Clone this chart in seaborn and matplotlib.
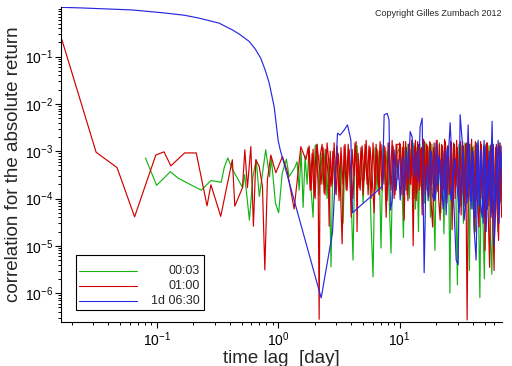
import numpy as np
import pandas as pd
import matplotlib
matplotlib.use("Agg")
import matplotlib.pyplot as plt
import seaborn as sns
from matplotlib.patches import Rectangle
from matplotlib.ticker import FixedLocator, LogLocator, NullFormatter

# ── values: lag [day] -> correlation of |r| ──────────────────────────────────
# 00:03 (green)
lag_g = [0.081, 0.1, 0.13, 0.15, 0.233, 0.28, 0.34, 0.36, 0.385, 0.424,
         0.51, 0.53, 0.58, 0.62, 0.66, 0.70, 0.79, 0.85, 0.88, 0.95,
         1.01, 1.08, 1.17, 1.23, 1.37,
         1.434, 1.489, 1.546, 1.605, 1.667, 1.731, 1.798, 1.867, 1.939, 2.014,
         2.091, 2.172, 2.256, 2.343, 2.433, 2.527, 2.624, 2.725, 2.83, 2.94,
         3.05, 3.17, 3.29, 3.42, 3.55, 3.69, 3.83, 3.98, 4.13, 4.29,
         4.46, 4.63, 4.81, 5.0, 5.19, 5.39, 5.6, 5.81, 6.04, 6.27,
         6.51, 6.76, 7.02, 7.29, 7.58, 7.87, 8.17, 8.49, 8.81, 9.15,
         9.51,
         10.15, 10.44, 10.74, 11.05, 11.37, 11.7, 12.03, 12.38, 12.74, 13.1,
         13.48, 13.87, 14.27, 14.68, 15.1, 15.54, 15.98, 16.44, 16.92, 17.4,
         17.91, 18.42, 18.95, 19.5, 20.06, 20.64, 21.23, 21.84, 22.47, 23.12,
         23.79, 24.47, 25.18, 25.9, 26.65, 27.41, 28.2, 29.02, 29.85, 30.71,
         31.6, 32.51, 33.44, 34.4, 35.39, 36.41, 37.46, 38.54, 39.65, 40.79,
         41.96, 43.17, 44.41, 45.69, 47.01, 48.36, 49.75, 51.19, 52.66, 54.18,
         55.74, 57.34, 59.0, 60.7, 62.44, 64.24, 66.09, 68.0, 69.95]
corr_g = [7.2e-4, 1.9e-4, 3.7e-4, 2.7e-4, 1.5e-4, 2.4e-4, 2.2e-4, 4.5e-4, 7.2e-4, 4e-4,
          1.7e-4, 3.2e-4, 3.5e-5, 2.9e-4, 6.6e-4, 1.1e-4, 1.07e-3, 2.9e-4, 7e-4, 8e-5,
          5e-5, 3.4e-4, 6.8e-4, 2.9e-4, 4.5e-4,
          6e-4, 1.5e-4, 1e-3, 6.5e-5, 8e-4, 2e-4, 1.2e-3, 1.5e-4, 4e-5, 1.3e-3,
          1.4e-3, 1.2e-4, 9e-4, 2e-4, 1.1e-3, 1e-4, 7e-4, 3.6e-6, 1e-3, 2.5e-4,
          1.2e-3, 1.5e-4, 8e-4, 3e-5, 1.1e-3, 2e-4, 1e-3, 1.2e-4, 5e-6, 1.2e-3,
          1.3e-3, 2e-4, 1e-3, 8e-5, 9e-4, 2.5e-4, 1.1e-3, 3e-5, 2.2e-6, 1.2e-3,
          1.5e-4, 1e-3, 9e-6, 1.3e-3, 2e-4, 1e-3, 1.2e-4, 7e-6, 1.2e-3, 1.5e-4,
          9e-4,
          1.3e-3, 2e-4, 1.5e-5, 1.2e-3, 1.5e-4, 1.4e-3, 1e-4, 1.1e-3, 3e-4, 1.5e-3,
          6e-5, 1.2e-3, 2e-5, 1.4e-3, 1.5e-4, 1.3e-3, 8e-5, 1.5e-3, 2e-4, 1.2e-3,
          4e-5, 1.4e-3, 1.2e-4, 8e-6, 1.3e-3, 1.5e-4, 1.5e-3, 5e-5, 1.2e-3, 1.8e-5,
          1.4e-3, 1e-4, 1.3e-3, 1e-6, 1.5e-3, 6e-5, 1.2e-3, 1.2e-4, 1.5e-6, 1.4e-3,
          7e-5, 1.3e-3, 3e-5, 1.5e-3, 1e-4, 1.2e-3, 3e-6, 1.4e-3, 6e-5, 1.3e-3,
          2e-5, 1.5e-3, 9e-5, 8e-7, 1.2e-3, 4e-5, 2e-6, 1.4e-3, 6e-5, 1.3e-3,
          1.5e-5, 2.5e-6, 1.4e-3, 5e-5, 1.2e-3, 2e-5, 1.5e-3, 8e-5, 1.3e-3]

# 01:00 (red)
lag_r = [0.0166, 0.0318, 0.0473, 0.0659, 0.0985, 0.115, 0.131, 0.170, 0.212, 0.26,
         0.28, 0.337, 0.42, 0.44, 0.509, 0.532, 0.559, 0.596, 0.626, 0.655,
         0.698, 0.743, 0.777, 0.816, 0.871, 0.957, 1.085, 1.19, 1.354, 1.537,
         1.69,
         1.766, 1.834, 1.905, 1.978, 2.055, 2.134, 2.175, 2.216, 2.30, 2.39,
         2.48, 2.58, 2.63, 2.68, 2.78, 2.89, 3.0, 3.12, 3.24, 3.36,
         3.49, 3.63, 3.77, 3.91, 3.99, 4.06, 4.22, 4.38, 4.46, 4.55,
         4.73, 4.91, 5.1, 5.3, 5.5, 5.71, 5.93, 6.16, 6.4, 6.65,
         6.9, 7.17, 7.45, 7.74, 8.03, 8.35, 8.67, 9.0, 9.35, 9.71,
         10.0, 10.29, 10.59, 10.89, 11.2, 11.53, 11.86, 12.2, 12.55, 12.91,
         13.28, 13.67, 14.06, 14.47, 14.88, 15.31, 15.75, 16.2, 16.67, 17.15,
         17.65, 18.15, 18.68, 19.21, 19.77, 20.34, 20.92, 21.53, 22.15, 22.78,
         23.44, 24.11, 24.81, 25.52, 26.26, 27.01, 27.79, 28.59, 29.41, 30.26,
         31.13, 32.03, 32.95, 33.9, 34.87, 35.88, 36.91, 37.97, 39.06, 40.19,
         41.35, 42.54, 43.76, 45.02, 46.32, 47.65, 49.03, 50.44, 51.89, 53.38,
         54.92, 56.5, 58.13, 59.8, 61.53, 63.3, 65.12, 67.0, 68.9, 70.9]
corr_r = [0.23, 9.5e-4, 4.5e-4, 4.1e-5, 8.3e-4, 9.7e-4, 4.9e-4, 9.2e-4, 9.2e-4, 7e-5,
          1.95e-4, 4.2e-5, 6.6e-4, 6.9e-5, 1.7e-4, 1.07e-3, 1.7e-4, 1.25e-3, 2.6e-5, 6.6e-4,
          4.8e-4, 1.8e-4, 3.1e-6, 2.5e-4, 8.3e-4, 3.5e-4, 7.7e-4, 3.7e-4, 6e-5, 1.25e-3,
          6.6e-4,
          1.2e-3, 1.5e-4, 9e-4, 1.1e-4, 1.3e-3, 2e-4, 2.8e-7, 8e-4, 1.4e-3, 1.3e-4,
          1.1e-3, 3e-4, 2.6e-5, 1e-3, 2e-4, 1.5e-3, 1.2e-4, 9e-4, 2.5e-4, 1.1e-5,
          1.3e-3, 1.5e-4, 1.4e-3, 2e-4, 4e-5, 1.1e-3, 3e-4, 1.6e-3, 2e-5, 9e-4,
          1.5e-4, 1.3e-3, 2.5e-4, 1.7e-3, 1.2e-4, 1.2e-3, 3e-4, 5e-5, 1.4e-3, 2e-4,
          1.6e-3, 1.5e-4, 1.3e-3, 4e-5, 1.5e-3, 2e-4, 1.7e-3, 1e-4, 1.4e-3, 2.5e-4,
          1.5e-3, 1.5e-4, 1.2e-3, 3.5e-5, 1.6e-3, 1.2e-4, 1.4e-3, 2e-4, 1.7e-3, 1e-5,
          1.3e-3, 9e-5, 1.6e-3, 1.5e-4, 1.1e-3, 4.5e-5, 1.8e-3, 1.2e-4, 1.4e-3, 2e-4,
          1.6e-3, 8e-5, 2.5e-5, 1.5e-3, 1.3e-4, 1.7e-3, 1e-4, 3.5e-5, 1.4e-3, 1.5e-4,
          1.8e-3, 9e-5, 1.3e-3, 1.2e-4, 1.6e-3, 2.2e-5, 1.5e-3, 1e-4, 1.7e-3, 1.4e-4,
          1.2e-3, 4.5e-5, 1.6e-3, 8e-5, 1.4e-3, 2.7e-7, 1.5e-3, 1.1e-4, 1.8e-3, 9e-5,
          1.8e-5, 1.4e-3, 7e-5, 2.5e-5, 1.6e-3, 1e-4, 1.3e-3, 8e-6, 1.5e-3, 6e-5,
          3.5e-6, 1.4e-3, 5e-5, 3e-6, 1.2e-3, 7e-5, 1.3e-5, 1.5e-3, 4e-5, 1e-4]

# 01:00 (red), second strand of the dense band (drawn as its own line)
lag_r_fill = [1.798, 1.867, 1.939, 2.014, 2.091, 2.256, 2.343, 2.433, 2.527, 2.725,
              2.83, 2.94, 3.05, 3.17, 3.29, 3.42, 3.55, 3.69, 3.83, 4.13,
              4.29, 4.63, 4.81, 5.0, 5.19, 5.39, 5.6, 5.81, 6.04, 6.27,
              6.51, 6.76, 7.02, 7.29, 7.58, 7.87, 8.17, 8.49, 8.81, 9.15,
              9.51,
              10.14, 10.44, 10.74, 11.05, 11.36, 11.69, 12.03, 12.37, 12.73, 13.1,
              13.47, 13.86, 14.26, 14.68, 15.1, 15.53, 15.98, 16.44, 16.91, 17.4,
              17.9, 18.41, 18.95, 19.49, 20.05, 20.63, 21.22, 21.84, 22.47, 23.11,
              23.78, 24.46, 25.17, 25.89, 26.64, 27.4, 28.19, 29.0, 29.83, 30.69,
              31.58, 32.49, 33.42, 34.39, 35.37, 36.39, 37.44, 38.52, 39.62, 40.77,
              41.94, 43.15, 44.39, 45.67, 46.98, 48.33, 49.73, 51.16, 52.63, 54.15,
              55.71, 57.31, 58.96, 60.66, 62.41, 64.2, 66.05, 67.95, 69.9]
corr_r_fill = [1.3e-3, 1.5e-4, 1.1e-3, 1e-4, 1.4e-3, 2e-4, 1.2e-3, 1.2e-4, 1.5e-3, 1.8e-4,
               1e-3, 1.3e-4, 1.3e-3, 9e-5, 1.2e-3, 2e-4, 1.4e-3, 1.5e-4, 1.1e-3, 1e-4,
               1.5e-3, 1.7e-4, 1.2e-3, 1.2e-4, 1.4e-3, 2e-4, 1.3e-3, 1e-4, 1.5e-3, 1.5e-4,
               1.1e-3, 1.2e-4, 1.4e-3, 2e-4, 1.2e-3, 9e-5, 1.5e-3, 1.5e-4, 1.3e-3, 1.2e-4,
               1.4e-3,
               1.4e-3, 1.2e-4, 1.6e-3, 1.5e-4, 1.2e-3, 9e-5, 1.5e-3, 2e-4, 1.3e-3, 1e-4,
               1.7e-3, 1.3e-4, 1.4e-3, 1.8e-4, 1.2e-3, 8e-5, 1.6e-3, 1.5e-4, 1.3e-3, 1.1e-4,
               1.5e-3, 2e-4, 1.2e-3, 9e-5, 1.7e-3, 1.4e-4, 1.4e-3, 1e-4, 1.3e-3, 1.6e-4,
               1.6e-3, 8e-5, 1.2e-3, 1.3e-4, 1.5e-3, 1e-4, 1.4e-3, 1.8e-4, 1.2e-3, 9e-5,
               1.6e-3, 1.2e-4, 1.3e-3, 7e-5, 1.5e-3, 1e-4, 1.4e-3, 1.4e-4, 1.2e-3, 6e-5,
               1.6e-3, 9e-5, 1.3e-3, 5e-5, 1.4e-3, 8e-5, 1.2e-3, 6e-5, 1.5e-3, 7e-5,
               1.3e-3, 5e-5, 1.2e-3, 8e-5, 1.4e-3, 6e-5, 1.3e-3, 9e-5, 1.2e-3]

# 1d 06:30 (blue)
lag_b = [0.0166, 0.024, 0.0629, 0.115, 0.169, 0.224, 0.327, 0.418, 0.478, 0.577,
         0.647, 0.72, 0.782, 0.843, 0.927, 1.0, 1.04, 2.26, 2.80, 3.08,
         3.24, 3.49, 3.72, 3.97, 4.09, 7.2, 7.45, 7.9, 8.17, 8.4,
         8.68, 9.0, 9.35, 9.72, 10.1, 10.49, 10.89, 11.31, 11.75, 12.2,
         12.67, 13.16, 13.67, 14.2, 14.74, 15.31, 15.9, 16.52, 17.15, 17.82,
         18.5, 19.22, 19.96, 20.73, 21.53, 22.36, 23.22, 24.12, 25.05, 26.02,
         27.02, 28.06, 29.15, 30.27, 31.44, 32.65, 33.91, 35.22, 36.58, 37.99,
         39.45, 40.97, 42.56, 44.2, 45.9, 47.67, 49.51, 51.42, 53.41, 55.47,
         57.6, 59.83, 62.14, 64.54, 67.02, 69.6]
corr_b = [1.1, 1.07, 0.97, 0.84, 0.75, 0.65, 0.51, 0.37, 0.30, 0.21,
          0.146, 0.092, 0.052, 0.028, 8.8e-3, 1.7e-3, 1.07e-3, 7.9e-7, 1.9e-5, 2.4e-3,
          2.2e-3, 2.8e-3, 3.6e-3, 1.7e-3, 5e-5, 1.8e-4, 5.9e-3, 6.3e-3, 4.6e-3, 5.7e-5,
          9.3e-5, 1.07e-3, 1.5e-4, 6.6e-4, 9.3e-5, 7.5e-4, 1.2e-4, 1.07e-3, 2.5e-4, 2.6e-3,
          2e-3, 2.9e-4, 1e-3, 2.2e-4, 3.3e-3, 5e-3, 2.7e-6, 5.1e-4, 9e-5, 1e-3,
          1.2e-4, 9e-5, 1.5e-3, 1.95e-4, 6.6e-4, 9e-5, 1e-3, 4.5e-5, 6.6e-4, 4e-3,
          4.8e-4, 5.7e-5, 5e-6, 4e-6, 5.9e-3, 1.7e-3, 3.5e-5, 9e-5, 3.6e-3, 9e-5,
          1e-3, 2.2e-5, 5e-6, 1.7e-3, 9e-5, 4e-5, 1.7e-3, 2e-5, 6.6e-4, 9e-5,
          4.3e-3, 1e-5, 9e-5, 1.7e-3, 2.2e-4, 1e-3]

# 1d 06:30 (blue), second strand of the dense band
lag_b_fill = [18.2, 19.6, 21.1, 22.8, 24.6, 26.5, 28.6, 30.8, 33.2, 35.8,
              37.3, 38.7, 40.2, 41.8, 43.4, 45.0, 46.8, 48.6, 50.4, 52.4,
              54.4, 56.5, 58.7, 60.9, 63.3, 65.7, 68.2]
corr_b_fill = [1e-3, 1e-4, 8e-4, 6e-5, 1.2e-3, 9e-5, 7e-4, 5e-5, 1e-3, 8e-5,
               1.3e-3, 6e-5, 1e-3, 4e-5, 1.5e-3, 7e-5, 1.1e-3, 3e-5, 1.3e-3, 6e-5,
               1e-3, 4e-5, 1.4e-3, 5e-5, 1.2e-3, 3e-5, 1.3e-3]

labels = ["00:03", "01:00", "1d 06:30"]
colors = ["#14b414", "#d00000", "#2828e0"]

# ── long-form frame, one "strand" unit per drawn line ───────────────────────
df = pd.concat([
    pd.DataFrame({"lag": lag_g, "corr": corr_g, "sampling": labels[0], "strand": 0}),
    pd.DataFrame({"lag": lag_r, "corr": corr_r, "sampling": labels[1], "strand": 0}),
    pd.DataFrame({"lag": lag_r_fill, "corr": corr_r_fill, "sampling": labels[1], "strand": 1}),
    pd.DataFrame({"lag": lag_b, "corr": corr_b, "sampling": labels[2], "strand": 0}),
    pd.DataFrame({"lag": lag_b_fill, "corr": corr_b_fill, "sampling": labels[2], "strand": 1}),
], ignore_index=True)

sns.set_style("ticks")
plt.rcParams["font.family"] = ["Liberation Sans", "DejaVu Sans"]
plt.rcParams["mathtext.default"] = "regular"
plt.rcParams["axes.unicode_minus"] = False

fig = plt.figure(figsize=(5.12, 3.66), dpi=100)
ax = fig.add_axes([0.1201, 0.1202, 0.8604, 0.8607])
ax.set_xscale("log")
ax.set_yscale("log")

sns.lineplot(data=df, x="lag", y="corr", hue="sampling", hue_order=labels,
             units="strand", palette=colors, estimator=None, sort=True,
             legend=False, lw=0.85, ax=ax)

# hand-drawn legend box (labels right-aligned like the original)
ax.add_patch(Rectangle((0.0329, 0.0381), 0.2906, 0.1746, transform=ax.transAxes,
                       facecolor="white", edgecolor="black", lw=0.8, zorder=5))
for yy, lab, col in zip([0.162, 0.1133, 0.0657], labels, colors):
    ax.plot([0.0397, 0.1714], [yy, yy], transform=ax.transAxes, color=col,
            lw=0.8, zorder=6)
    ax.text(0.3144, yy, lab, transform=ax.transAxes, ha="right", va="center",
            fontsize=9, zorder=6)

ax.set_xlim(0.0165, 69.5)
ax.set_ylim(2.45e-7, 1.12)
ax.yaxis.set_major_locator(FixedLocator([1e-6, 1e-5, 1e-4, 1e-3, 1e-2, 1e-1]))
ax.yaxis.set_minor_locator(LogLocator(base=10, subs=np.arange(1, 10)))
ax.yaxis.set_minor_formatter(NullFormatter())
ax.xaxis.set_minor_locator(LogLocator(base=10, subs=np.arange(2, 10)))
ax.xaxis.set_minor_formatter(NullFormatter())

ax.tick_params(which="major", length=4, width=0.8, direction="out",
               labelsize=10, pad=2, colors="black")
ax.tick_params(which="minor", length=2.2, width=0.7, direction="out", colors="black")
sns.despine(ax=ax)
for s in ["left", "bottom"]:
    ax.spines[s].set_linewidth(0.8)
    ax.spines[s].set_color("black")

ax.set_xlabel("time lag  [day]", fontsize=13.5, labelpad=1)
ax.set_ylabel("correlation for the absolute return", fontsize=13.5, labelpad=2)

fig.text(0.98, 0.963, "Copyright Gilles Zumbach 2012", ha="right", va="center",
         fontsize=6.5)

fig.savefig("out.png", dpi=100)
plt.close()
